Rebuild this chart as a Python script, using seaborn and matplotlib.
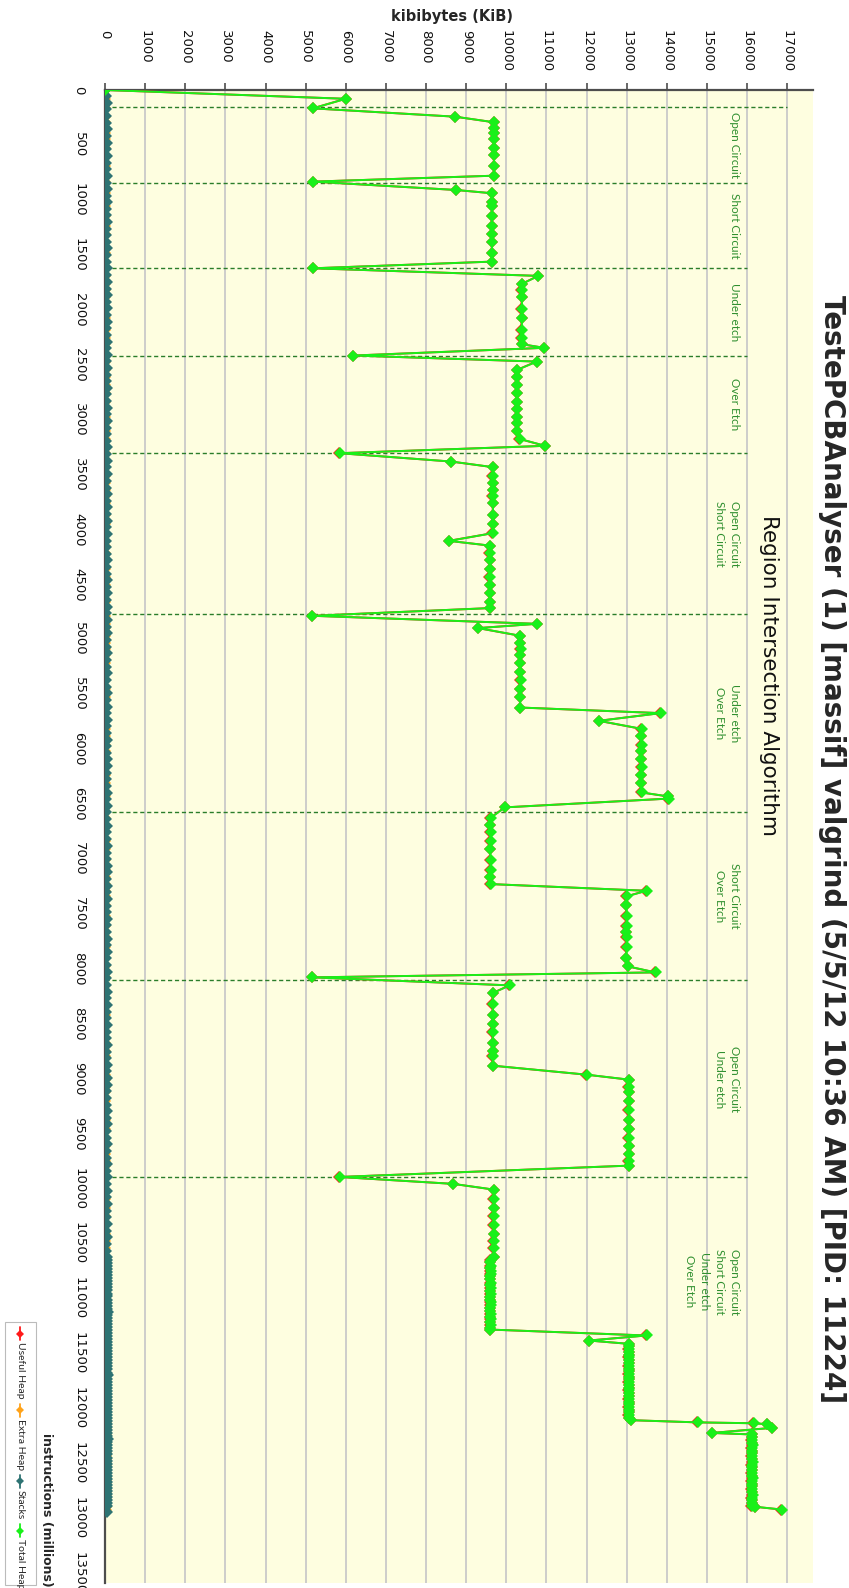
import matplotlib
matplotlib.use("Agg")
import matplotlib.pyplot as plt
from matplotlib.lines import Line2D
from matplotlib.patches import Rectangle
import pandas as pd
import seaborn as sns

# ---------------------------------------------------------------- data
# massif snapshots (instructions in millions) and heap sizes in KiB
snap_instr = [
    0, 80, 167, 243,
    294, 343, 394, 446, 531, 592, 689, 780,
    834, 910,
    940, 1016, 1055, 1146, 1235, 1313, 1386, 1486, 1562,
    1623, 1692,
    1765, 1820, 1881, 1993, 2078, 2184, 2259, 2314,
    2347, 2417, 2472,
    2548, 2609, 2684, 2760, 2836, 2906, 2973, 3033, 3103,
    3176, 3239, 3306, 3382,
    3433, 3512, 3579, 3640, 3694, 3761, 3867, 3949, 4034,
    4104,
    4147, 4210, 4277, 4362, 4429, 4504, 4580, 4665, 4716,
    4786, 4859, 4898,
    4968, 5035, 5089, 5141, 5217, 5302, 5375, 5450, 5526, 5621,
    5672, 5742,
    5815, 5884, 5960, 6021, 6090, 6158, 6239, 6309, 6394,
    6430, 6450, 6530,
    6627, 6688, 6758, 6834, 6910, 7013, 7104, 7164, 7228,
    7289,
    7340, 7422, 7516, 7607, 7660, 7710, 7801, 7901, 7977,
    8032, 8077, 8150,
    8220, 8317, 8417, 8499, 8578, 8675, 8751, 8797, 8881,
    8963,
    9008, 9072, 9124, 9205, 9281, 9378, 9457, 9540, 9615, 9685, 9745, 9791,
    9894, 9957,
    10009, 10094, 10176, 10252, 10328, 10413, 10480, 10540, 10625,
    10646, 10670, 10701, 10722, 10749, 10778, 10800, 10827, 10856, 10879,
    10905, 10934, 10957, 10983, 11012, 11035, 11061, 11090, 11113, 11139,
    11168, 11191, 11217, 11246, 11269, 11283,
    11337, 11383,
    11413, 11437, 11462, 11488, 11511, 11537, 11563, 11586, 11612, 11638,
    11661, 11687, 11713, 11736, 11762, 11788, 11811, 11837, 11863, 11886,
    11912, 11938, 11961, 11987, 12013, 12036, 12062, 12088, 12108,
    12128, 12136, 12144, 12178, 12224,
    12238, 12262, 12287, 12313, 12336, 12362, 12388, 12411, 12437, 12463,
    12486, 12512, 12538, 12561, 12587, 12613, 12636, 12662, 12688, 12711,
    12737, 12763, 12786, 12812, 12838, 12861, 12887,
    12896, 12921,
]

total_kib = [
    0, 6000, 5180, 8730,
    9700, 9690, 9700, 9695, 9700, 9690, 9700, 9695,
    5180, 8745,
    9650, 9640, 9650, 9645, 9640, 9650, 9645, 9640, 9650,
    5180, 10800,
    10390, 10380, 10390, 10385, 10390, 10380, 10385, 10390,
    10950, 6190, 10760,
    10270, 10265, 10275, 10270, 10265, 10270, 10275, 10270, 10265,
    10330, 10970, 5843, 8630,
    9665, 9660, 9670, 9665, 9660, 9665, 9670, 9665, 9660,
    8573,
    9590, 9585, 9595, 9590, 9585, 9590, 9595, 9590, 9590,
    5165, 10764, 9300,
    10350, 10345, 10355, 10350, 10345, 10350, 10355, 10350, 10345, 10350,
    13849, 12311,
    13369, 13360, 13370, 13365, 13360, 13370, 13365, 13360, 13369,
    14030, 14050, 9962,
    9606, 9600, 9610, 9605, 9600, 9606, 9610, 9600, 9606,
    13493,
    12997, 12990, 13000, 12995, 12990, 13000, 12995, 12990, 13030,
    13717, 5165, 10086,
    9664, 9660, 9670, 9665, 9660, 9664, 9670, 9660, 9664,
    12005,
    13055, 13050, 13060, 13055, 13050, 13060, 13055, 13050, 13060, 13055, 13050, 13055,
    5843, 8680,
    9689, 9685, 9690, 9685, 9680, 9690, 9685, 9680, 9689,
    9606, 9600, 9612, 9598, 9606, 9610, 9600, 9604, 9612, 9598,
    9606, 9600, 9610, 9604, 9598, 9606, 9612, 9600, 9604, 9610,
    9598, 9606, 9600, 9612, 9604, 9590,
    13493, 12063,
    13055, 13062, 13048, 13058, 13066, 13050, 13055, 13062, 13048, 13058,
    13066, 13050, 13055, 13062, 13048, 13058, 13066, 13050, 13055, 13062,
    13048, 13058, 13066, 13050, 13055, 13062, 13048, 13058, 13109,
    14771, 16168, 16500, 16625, 15129,
    16125, 16132, 16118, 16128, 16136, 16120, 16125, 16132, 16118, 16128,
    16136, 16120, 16125, 16132, 16118, 16128, 16136, 16120, 16125, 16132,
    16118, 16128, 16136, 16120, 16125, 16132, 16118,
    16200, 16858,
]

# allocator bookkeeping overhead (extra heap) per snapshot, KiB
extra_kib = [
    0, 5, 5, 7,
    8, 8, 8, 8, 8, 8, 8, 8,
    5, 7,
    8, 8, 8, 8, 8, 8, 8, 8, 8,
    5, 9,
    9, 9, 9, 9, 9, 9, 9, 9,
    9, 5, 9,
    9, 9, 9, 9, 9, 9, 9, 9, 9,
    9, 9, 5, 7,
    8, 8, 8, 8, 8, 8, 8, 8, 8,
    7,
    8, 8, 8, 8, 8, 8, 8, 8, 8,
    5, 9, 8,
    9, 9, 9, 9, 9, 9, 9, 9, 9, 9,
    11, 10,
    11, 11, 11, 11, 11, 11, 11, 11, 11,
    11, 11, 8,
    8, 8, 8, 8, 8, 8, 8, 8, 8,
    11,
    11, 11, 11, 11, 11, 11, 11, 11, 11,
    11, 5, 8,
    8, 8, 8, 8, 8, 8, 8, 8, 8,
    10,
    11, 11, 11, 11, 11, 11, 11, 11, 11, 11, 11, 11,
    5, 7,
    8, 8, 8, 8, 8, 8, 8, 8, 8,
    8, 8, 8, 8, 8, 8, 8, 8, 8, 8,
    8, 8, 8, 8, 8, 8, 8, 8, 8, 8,
    8, 8, 8, 8, 8, 8,
    11, 10,
    11, 11, 11, 11, 11, 11, 11, 11, 11, 11,
    11, 11, 11, 11, 11, 11, 11, 11, 11, 11,
    11, 11, 11, 11, 11, 11, 11, 11, 11,
    12, 13, 13, 14, 12,
    13, 13, 13, 13, 13, 13, 13, 13, 13, 13,
    13, 13, 13, 13, 13, 13, 13, 13, 13, 13,
    13, 13, 13, 13, 13, 13, 13,
    13, 14,
]

# stack snapshots (instructions in millions) and stack size in KiB
stack_instr = [
    0, 55, 118, 176, 240, 297, 359, 421, 478, 541,
    600, 662, 719, 781, 842, 901, 963, 1020, 1083, 1141,
    1204, 1262, 1323, 1385, 1442, 1505, 1563, 1624, 1686, 1744,
    1807, 1865, 1926, 1988, 2046, 2109, 2167, 2228, 2290, 2348,
    2411, 2469, 2530, 2592, 2650, 2713, 2771, 2832, 2894, 2952,
    3015, 3073, 3134, 3196, 3254, 3317, 3375, 3436, 3498, 3556,
    3619, 3677, 3738, 3800, 3858, 3921, 3979, 4040, 4102, 4160,
    4223, 4281, 4342, 4404, 4462, 4525, 4583, 4644, 4706, 4764,
    4827, 4885, 4946, 5008, 5066, 5129, 5187, 5248, 5310, 5368,
    5431, 5489, 5550, 5612, 5670, 5733, 5791, 5852, 5914, 5972,
    6035, 6093, 6154, 6216, 6274, 6337, 6395, 6456, 6518, 6576,
    6639, 6697, 6758, 6820, 6878, 6941, 6999, 7060, 7122, 7180,
    7243, 7301, 7362, 7424, 7482, 7545, 7603, 7664, 7726, 7784,
    7847, 7905, 7966, 8028, 8086, 8149, 8207, 8268, 8330, 8388,
    8451, 8509, 8570, 8632, 8690, 8753, 8811, 8872, 8934, 8992,
    9055, 9113, 9174, 9236, 9294, 9357, 9415, 9476, 9538, 9596,
    9659, 9717, 9778, 9840, 9898, 9961, 10019, 10080, 10142, 10200,
    10263, 10321, 10382, 10444, 10502, 10565, 10623, 10650, 10678, 10705,
    10733, 10760, 10789, 10816, 10844, 10871, 10899, 10926, 10955, 10982,
    11010, 11037, 11065, 11092, 11121, 11148, 11176, 11203, 11231, 11258,
    11287, 11314, 11342, 11369, 11397, 11424, 11453, 11480, 11508, 11535,
    11563, 11590, 11619, 11646, 11674, 11701, 11729, 11756, 11785, 11812,
    11840, 11867, 11895, 11922, 11951, 11978, 12006, 12033, 12061, 12088,
    12117, 12144, 12172, 12199, 12227, 12254, 12283, 12310, 12338, 12365,
    12393, 12420, 12449, 12476, 12504, 12531, 12559, 12586, 12615, 12642,
    12670, 12697, 12725, 12752, 12781, 12808, 12836, 12863, 12891, 12945,
]

stack_kib = [
    0, 28, 41, 22, 37, 30, 44, 25, 39, 33,
    42, 24, 36, 45, 29, 38, 23, 41, 34, 27,
    44, 31, 37, 22, 40, 35, 28, 43, 26, 38,
    33, 45, 24, 39, 30, 42, 27, 36, 44, 25,
    38, 32, 41, 23, 37, 45, 29, 34, 40, 26,
    43, 31, 36, 24, 42, 28, 39, 33, 45, 27,
    35, 41, 22, 38, 30, 44, 26, 40, 33, 37,
    24, 43, 29, 36, 41, 25, 38, 32, 45, 28,
    39, 23, 42, 34, 27, 40, 31, 37, 44, 26,
    36, 42, 28, 39, 24, 45, 33, 30, 41, 35,
    27, 38, 43, 25, 36, 31, 44, 29, 40, 34,
    23, 41, 37, 28, 45, 32, 26, 39, 42, 30,
    38, 24, 43, 35, 29, 41, 27, 36, 44, 31,
    40, 33, 25, 42, 37, 28, 45, 30, 39, 26,
    34, 43, 31, 24, 40, 36, 29, 44, 27, 38,
    42, 25, 37, 33, 45, 28, 39, 31, 24, 41,
    36, 30, 43, 27, 38, 34, 44, 26, 40, 32,
    29, 45, 35, 41, 28, 37, 42, 55, 48, 60,
    52, 46, 58, 50, 62, 47, 56, 53, 49, 61,
    54, 47, 59, 51, 63, 48, 57, 52, 46, 60,
    55, 49, 62, 50, 58, 47, 61, 53, 48, 57,
    51, 60, 46, 56, 52, 63, 49, 58, 54, 47,
    61, 50, 57, 53, 48, 62, 55, 46, 59, 52,
    49, 60, 54, 47, 58, 51, 63, 48, 56, 53,
    62, 46, 57, 50, 61, 55, 48, 59, 52, 47,
    60, 53, 49, 58, 51, 62, 47, 56, 54, 40,
]

# phase boundaries of the test run (instructions) and their descriptions
phase_bounds = [158, 843, 1623, 2420, 3306, 4771, 6573, 8104, 9897]
phase_last_end = 11795
phase_labels = [
    "Open Circuit",
    "Short Circuit",
    "Under etch",
    "Over Etch",
    "Open Circuit\nShort Circuit",
    "Under etch\nOver Etch",
    "Short Circuit\nOver Etch",
    "Open Circuit\nUnder etch",
    "Open Circuit\nShort Circuit\nUnder etch\nOver Etch",
]
algo_label = "Region Intersection Algorithm"
algo_center_instr = 5330

kib_ticks = [0, 1000, 2000, 3000, 4000, 5000, 6000, 7000, 8000, 9000,
             10000, 11000, 12000, 13000, 14000, 15000, 16000, 17000]
instr_ticks = [0, 500, 1000, 1500, 2000, 2500, 3000, 3500, 4000, 4500,
               5000, 5500, 6000, 6500, 7000, 7500, 8000, 8500, 9000, 9500,
               10000, 10500, 11000, 11500, 12000, 12500, 13000, 13500]

title = "TestePCBAnalyser (1) [massif] valgrind (5/5/12 10:36 AM) [PID: 11224]"

# ---------------------------------------------------------------- style
sns.set_style("white")
plt.rcParams["font.family"] = ["DejaVu Sans"]

C_USEFUL = "#ff1a1a"
C_EXTRA = "#ffa31a"
C_STACK = "#2e7373"
C_TOTAL = "#19f019"
C_PHASE = "#2a7d2a"
C_PHASE_TXT = "#2f8f2f"
C_AXIS = "#4d4d4d"

W, H = 849, 1588
fig = plt.figure(figsize=(W / 100, H / 100), dpi=100)
fig.patch.set_facecolor("white")

# plot area: x = KiB (left -> right), y = instructions (top -> bottom)
ax = fig.add_axes([105 / W, 1 - 1583 / H, (813 - 105) / W, (1583 - 90) / H])
ax.set_facecolor("#fefee0")

heap = pd.DataFrame({"instr": snap_instr, "total": total_kib, "extra": extra_kib})
heap["useful"] = heap["total"] - heap["extra"]
stacks = pd.DataFrame({"instr": stack_instr, "kib": stack_kib})

common = dict(sort=False, estimator=None, orient="y", marker="D",
              markersize=6.4, markeredgewidth=0, linewidth=1.4, ax=ax)
sns.lineplot(data=heap, x="useful", y="instr", color=C_USEFUL, zorder=3, **common)
sns.lineplot(data=heap, x="extra", y="instr", color=C_EXTRA, zorder=3, **common)
sns.lineplot(data=stacks, x="kib", y="instr", color=C_STACK, zorder=4, **common)
sns.lineplot(data=heap, x="total", y="instr", color=C_TOTAL, zorder=5, **common)

ax.set_xlim(0, 17640)
ax.set_ylim(13590, 0)

# phase boundary markers and their labels
ends = [17000] + [16000] * (len(phase_bounds) - 1)
ax.hlines(phase_bounds, 0, ends, colors=C_PHASE, linestyles=(0, (3, 2)),
          linewidth=1.0, zorder=2)
edges = phase_bounds + [phase_last_end]
for i, lab in enumerate(phase_labels):
    mid = (edges[i] + edges[i + 1]) / 2
    ax.text(15830, mid, lab, rotation=-90, ha="right", va="center",
            multialignment="center", color=C_PHASE_TXT, fontsize=8.5,
            family=["Lato", "DejaVu Sans"], linespacing=1.45, zorder=6)
ax.text(16540, algo_center_instr, algo_label, rotation=-90, ha="center",
        va="center", fontsize=15.5, color="#111111", zorder=6)

# axes, ticks and grid
ax.set_xticks(kib_ticks)
ax.set_xticklabels([str(v) for v in kib_ticks])
ax.set_yticks(instr_ticks)
ax.set_yticklabels([str(v) for v in instr_ticks])
ax.set_axisbelow(True)
ax.grid(axis="x", color="#c9c9c9", linewidth=1.3)
ax.grid(axis="y", visible=False)
for side in ("right", "bottom"):
    ax.spines[side].set_visible(False)
for side in ("top", "left"):
    ax.spines[side].set_color(C_AXIS)
    ax.spines[side].set_linewidth(1.6)

ax.xaxis.tick_top()
ax.tick_params(axis="x", which="major", direction="out", length=5, width=1.2,
               color=C_AXIS, pad=38.5, labelsize=9.5, labelcolor="#111111")
for lab in ax.get_xticklabels():
    lab.set_rotation(-90)
    lab.set_rotation_mode("anchor")
    lab.set_ha("left")
    lab.set_va("center")
ax.tick_params(axis="y", which="major", direction="out", length=5, width=1.2,
               color=C_AXIS, pad=9, labelsize=9.5, labelcolor="#111111")
for lab in ax.get_yticklabels():
    lab.set_rotation(-90)
    lab.set_ha("right")
    lab.set_va("center")
ax.set_xlabel("")
ax.set_ylabel("")
if ax.get_legend() is not None:
    ax.get_legend().remove()

def fx(px):
    return px / W

def fy(py):
    return 1 - py / H

fig.text(fx(452), fy(17), "kibibytes (KiB)", ha="center", va="center",
         fontsize=10.5, fontweight="bold")
fig.text(fx(832), fy(849), title, rotation=-90, ha="center", va="center",
         fontsize=20, fontweight="bold")
fig.text(fx(46), fy(1510), "instructions (millions)", rotation=-90,
         ha="center", va="center", fontsize=9, fontweight="bold")

# legend, laid out top-to-bottom to follow the rotated chart
box_top, box_bottom = 1322, 1585
fig.patches.append(Rectangle((fx(5), fy(box_bottom)), fx(36) - fx(5),
                             fy(box_top) - fy(box_bottom),
                             transform=fig.transFigure, facecolor="white",
                             edgecolor="#bbbbbb", linewidth=0.8))
entries = [("Useful Heap", C_USEFUL), ("Extra Heap", C_EXTRA),
           ("Stacks", C_STACK), ("Total Heap", C_TOTAL)]
y0 = box_top + 5
for name, col in entries:
    fig.add_artist(Line2D([fx(20), fx(20)], [fy(y0), fy(y0 + 13)], color=col,
                          linewidth=1.3, transform=fig.transFigure))
    fig.add_artist(Line2D([fx(20)], [fy(y0 + 6.5)], color=col, marker="D",
                          markersize=4.2, markeredgewidth=0,
                          transform=fig.transFigure))
    t = fig.text(fx(20), fy(y0 + 15), name, rotation=-90, ha="center", va="top",
                 fontsize=7.5, family=["Lato", "DejaVu Sans"])
    fig.canvas.draw()
    bb = t.get_window_extent()
    y0 = H - bb.y0 + 5

fig.savefig("out.png", dpi=100, facecolor="white")
